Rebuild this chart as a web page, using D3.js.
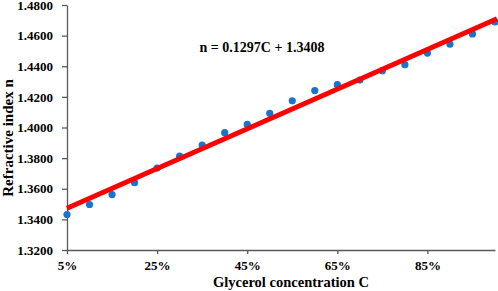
<!DOCTYPE html>
<html>
<head>
<meta charset="utf-8">
<script src="https://cdn.jsdelivr.net/npm/d3@7"></script>
<style>
  body { margin: 0; background: #fff; }
  #chart svg, #chart svg text { font-family: "Liberation Serif"; font-weight: bold; }
</style>
</head>
<body>
<div id="chart"></div>
<script>
// data
const concentration = [5, 10, 15, 20, 25, 30, 35, 40, 45, 50, 55, 60, 65, 70, 75, 80, 85, 90, 95, 100];
const refractiveIndex = [1.3432, 1.3497, 1.3562, 1.3640, 1.3735, 1.3813, 1.3885, 1.3966, 1.4020, 1.4093,
                         1.4174, 1.4241, 1.4280, 1.4310, 1.4371, 1.4410, 1.4486, 1.4544, 1.4611, 1.4689];
const xTicks = [5, 25, 45, 65, 85];
const yTicks = [1.32, 1.34, 1.36, 1.38, 1.40, 1.42, 1.44, 1.46, 1.48];
const fitSlope = 0.1297, fitIntercept = 1.3408;
const fitLabel = "n = 0.1297C + 1.3408";

const W = 498, H = 291;
const margin = { top: 5, right: 3, bottom: 41, left: 67 };

const svg = d3.select("#chart").append("svg")
    .attr("width", W)
    .attr("height", H);

const x = d3.scaleLinear().domain([5, 100]).range([margin.left, W - margin.right]);
const y = d3.scaleLinear().domain([1.32, 1.48]).range([H - margin.bottom, margin.top]);

// axes
const axisColor = "#595959";
const gx = svg.append("g")
    .attr("transform", "translate(0," + y(1.32) + ")")
    .call(d3.axisBottom(x).tickValues(xTicks).tickSize(4).tickSizeOuter(0).tickFormat(d => d + "%"));
const gy = svg.append("g")
    .attr("transform", "translate(" + x(5) + ",0)")
    .call(d3.axisLeft(y).tickValues(yTicks).tickSize(5).tickSizeOuter(0).tickFormat(d3.format(".4f")));

[gx, gy].forEach(g => {
    g.attr("font-family", null).attr("font-size", null);
    g.select(".domain").attr("stroke", axisColor).attr("stroke-width", 1.3);
    g.selectAll(".tick line").attr("stroke", axisColor).attr("stroke-width", 1.3);
    g.selectAll(".tick text")
        .style("font-size", "13px")
        .attr("fill", "#000");
});
gx.selectAll(".tick text").attr("y", 11);
gy.selectAll(".tick text").attr("x", -14);

// points
svg.append("g").selectAll("circle")
    .data(concentration)
    .enter()
    .append("circle")
    .attr("cx", d => x(d))
    .attr("cy", (d, i) => y(refractiveIndex[i]))
    .attr("r", 3.6)
    .attr("fill", "#1a73cc");

// linear fit (C as fraction)
const fit = c => fitSlope * c / 100 + fitIntercept;
svg.append("line")
    .attr("x1", x(5)).attr("y1", y(fit(5)))
    .attr("x2", x(100) + 2).attr("y2", y(fit(100)) - 0.8)
    .attr("stroke", "#ff0000")
    .attr("stroke-width", 5);

svg.append("text")
    .attr("x", 262)
    .attr("y", 52)
    .attr("text-anchor", "middle")
    .style("font-size", "14px")
    .text(fitLabel);

// axis titles
svg.append("text")
    .attr("x", 291)
    .attr("y", 287)
    .attr("text-anchor", "middle")
    .style("font-size", "14.5px")
    .text("Glycerol concentration C");

svg.append("text")
    .attr("transform", "translate(13,138) rotate(-90)")
    .attr("text-anchor", "middle")
    .style("font-size", "15px")
    .text("Refractive index n");
</script>
</body>
</html>
